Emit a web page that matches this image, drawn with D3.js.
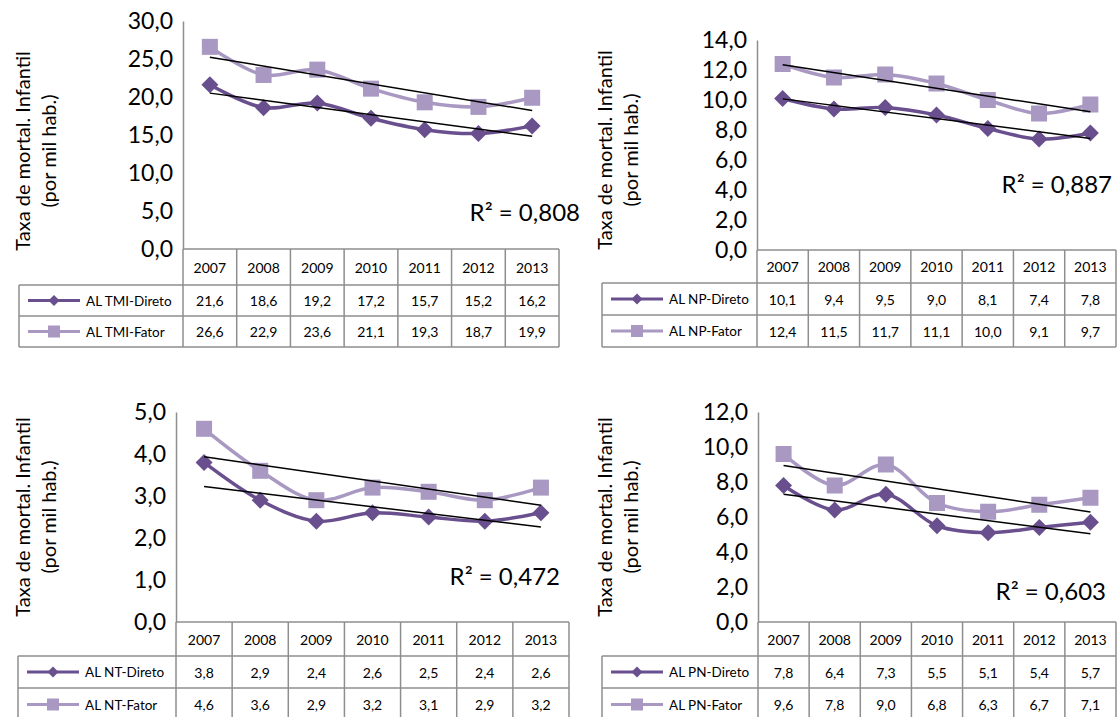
<!DOCTYPE html>
<html><head><meta charset="utf-8">
<script src="https://cdn.jsdelivr.net/npm/d3@7/dist/d3.min.js"></script>
<style>
body{margin:0;background:#fff;}
svg{display:block;font-family:Lato, "Open Sans", sans-serif;}
</style></head>
<body>
<svg id="chart" width="1117" height="717"></svg>
<script>
const years = ["2007","2008","2009","2010","2011","2012","2013"];

const tmiDireto = [21.6,18.6,19.2,17.2,15.7,15.2,16.2];
const tmiFator  = [26.6,22.9,23.6,21.1,19.3,18.7,19.9];
const npDireto  = [10.1,9.4,9.5,9.0,8.1,7.4,7.8];
const npFator   = [12.4,11.5,11.7,11.1,10.0,9.1,9.7];
const ntDireto  = [3.8,2.9,2.4,2.6,2.5,2.4,2.6];
const ntFator   = [4.6,3.6,2.9,3.2,3.1,2.9,3.2];
const pnDireto  = [7.8,6.4,7.3,5.5,5.1,5.4,5.7];
const pnFator   = [9.6,7.8,9.0,6.8,6.3,6.7,7.1];

const directNames = ["AL TMI-Direto","AL NP-Direto","AL NT-Direto","AL PN-Direto"];
const fatorNames  = ["AL TMI-Fator","AL NP-Fator","AL NT-Fator","AL PN-Fator"];
const r2Labels = ["R² = 0,808","R² = 0,887","R² = 0,472","R² = 0,603"];
const yMaxes = [30,14,5,12];
const ySteps = [5,2,1,2];
const yTitle1 = "Taxa de mortal. Infantil";
const yTitle2 = "(por mil hab.)";

const seriesPairs = [[tmiDireto,tmiFator],[npDireto,npFator],[ntDireto,ntFator],[pnDireto,pnFator]];

// layout
const layouts = [
  {ax:183, right:559, y0:249, yTop:21, legX:19, rows:[249,285,316,347], tX:[22,48], tCy:151, r2:[580,221]},
  {ax:757, right:1116, y0:250, yTop:40, legX:602, rows:[250,283,315,347], tX:[604,630], tCy:150, r2:[1112,193]},
  {ax:176, right:569, y0:622, yTop:412, legX:18, rows:[622,656,688,721], tX:[22,48], tCy:517, r2:[560,585]},
  {ax:758, right:1116, y0:622, yTop:412, legX:602, rows:[622,656,688,721], tX:[604,630], tCy:517, r2:[1106,600]}
];

const cDir = "#6a4f8e";
const cFat = "#a898c2";
const gridC = "#8e8e8e";
const fmt = v => d3.format(".1f")(v).replace(".", ",");
const diamond = r => `M0,${-r}L${r},0L0,${r}L${-r},0Z`;

const svg = d3.select("#chart");

function linReg(vals){
  const n = vals.length, xs = d3.range(n);
  const mx = d3.mean(xs), my = d3.mean(vals);
  let sxy=0, sxx=0;
  xs.forEach((x,i)=>{sxy+=(x-mx)*(vals[i]-my); sxx+=(x-mx)*(x-mx);});
  const b = sxy/sxx, a = my-b*mx;
  return x => a + b*x;
}

seriesPairs.forEach((pair, p) => {
  const L = layouts[p];
  const g = svg.append("g");
  const x = d3.scaleBand().domain(years).range([L.ax, L.right]);
  const y = d3.scaleLinear().domain([0, yMaxes[p]]).range([L.y0, L.yTop]);
  const cx = d => x(d) + x.bandwidth()/2;

  // y axis
  const ticks = d3.range(0, yMaxes[p] + 1e-9, ySteps[p]);
  const yAxis = d3.axisLeft(y).tickValues(ticks).tickFormat(fmt).tickSize(0).tickPadding(10);
  const ag = g.append("g").attr("transform", `translate(${L.ax},0)`).call(yAxis);
  ag.select(".domain").attr("stroke", gridC).attr("stroke-width", 1.5);
  ag.selectAll("text").attr("font-size", 23).attr("fill", "#000").attr("font-family","Lato, sans-serif");

  // y title
  [yTitle1, yTitle2].forEach((t, i) => {
    g.append("text").attr("transform", `translate(${L.tX[i]},${L.tCy}) rotate(-90)`)
      .attr("text-anchor","middle").attr("dominant-baseline","central")
      .attr("font-size", 20).attr("fill","#000").text(t);
  });

  // table grid
  const tg = g.append("g").attr("stroke", gridC).attr("stroke-width", 1.5).attr("fill","none");
  const R = L.rows;
  tg.append("line").attr("x1", L.ax).attr("x2", L.right).attr("y1", R[0]).attr("y2", R[0]);
  tg.append("line").attr("x1", L.legX).attr("x2", L.right).attr("y1", R[1]).attr("y2", R[1]);
  tg.append("line").attr("x1", L.legX).attr("x2", L.right).attr("y1", R[2]).attr("y2", R[2]);
  tg.append("line").attr("x1", L.legX).attr("x2", L.right).attr("y1", R[3]).attr("y2", R[3]);
  tg.append("line").attr("x1", L.legX).attr("x2", L.legX).attr("y1", R[1]).attr("y2", R[3]);
  years.forEach(yr => {
    tg.append("line").attr("x1", x(yr)).attr("x2", x(yr)).attr("y1", R[0]).attr("y2", R[3]);
  });
  tg.append("line").attr("x1", L.right).attr("x2", L.right).attr("y1", R[0]).attr("y2", R[3]);

  // table text
  const tt = g.append("g").attr("font-size", 14).attr("fill","#000").attr("text-anchor","middle");
  years.forEach((yr, i) => {
    tt.append("text").attr("x", cx(yr)).attr("y", (R[0]+R[1])/2).attr("dominant-baseline","central").text(yr);
    tt.append("text").attr("x", cx(yr)).attr("y", (R[1]+R[2])/2).attr("dominant-baseline","central").text(fmt(pair[0][i]));
    tt.append("text").attr("x", cx(yr)).attr("y", (R[2]+R[3])/2).attr("dominant-baseline","central").text(fmt(pair[1][i]));
  });

  // legend keys
  const names = [directNames[p], fatorNames[p]];
  [0,1].forEach(k => {
    const ym = (R[1+k] + R[2+k]) / 2;
    const col = k === 0 ? cDir : cFat;
    g.append("line").attr("x1", L.legX+9).attr("x2", L.legX+61).attr("y1", ym).attr("y2", ym)
      .attr("stroke", col).attr("stroke-width", 3);
    const mx = L.legX + 35;
    if (k === 0) {
      g.append("path").attr("d", diamond(5.5)).attr("transform", `translate(${mx},${ym})`).attr("fill", col);
    } else {
      g.append("rect").attr("x", mx-6).attr("y", ym-6).attr("width", 12).attr("height", 12).attr("fill", col);
    }
    g.append("text").attr("x", L.legX+67).attr("y", ym).attr("dominant-baseline","central")
      .attr("font-size", 13.5).attr("fill","#000").text(names[k]);
  });

  // series lines
  const line = d3.line().x((d,i) => cx(years[i])).y(d => y(d)).curve(d3.curveCatmullRom.alpha(0.5));
  [1,0].forEach(k => {
    const col = k === 0 ? cDir : cFat;
    g.append("path").datum(pair[k]).attr("d", line).attr("fill","none").attr("stroke", col).attr("stroke-width", 3.5);
    if (k === 0) {
      g.selectAll(null).data(pair[k]).enter().append("path")
        .attr("d", diamond(8.5))
        .attr("transform", (d,i) => `translate(${cx(years[i])},${y(d)})`).attr("fill", col);
    } else {
      g.selectAll(null).data(pair[k]).enter().append("rect")
        .attr("x", (d,i) => cx(years[i]) - 8).attr("y", d => y(d) - 8)
        .attr("width", 16).attr("height", 16).attr("fill", col);
    }
  });

  // trend lines
  pair.forEach(vals => {
    const f = linReg(vals);
    g.append("line").attr("x1", cx(years[0])).attr("x2", cx(years[6]))
      .attr("y1", y(f(0))).attr("y2", y(f(6))).attr("stroke","#000").attr("stroke-width", 1.5);
  });

  // R2 label
  g.append("text").attr("x", L.r2[0]).attr("y", L.r2[1]).attr("text-anchor","end")
    .attr("font-size", 24).attr("fill","#000").text(r2Labels[p]);
});
</script>
</body></html>
